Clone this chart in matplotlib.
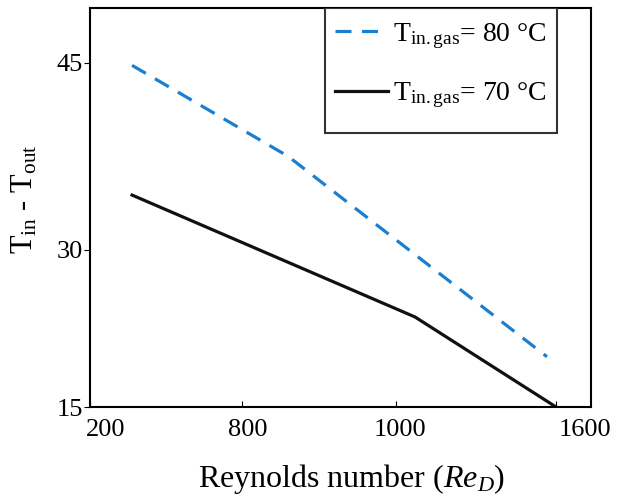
import numpy as np
import matplotlib
matplotlib.use('Agg')
import matplotlib.pyplot as plt
from matplotlib.patches import Rectangle
from matplotlib.transforms import ScaledTranslation

# data
re_80 = [366, 860, 1566]
dt_80 = [44.8, 37.5, 19.8]
re_70 = [366, 1071, 1600]
dt_70 = [34.4, 23.6, 15.0]

x_ticks = [200, 800, 1000, 1600]
y_ticks = [15, 30, 45]

plt.rcParams['font.family'] = ['Liberation Serif', 'DejaVu Serif']
plt.rcParams['mathtext.fontset'] = 'custom'
plt.rcParams['mathtext.rm'] = 'Liberation Serif'
plt.rcParams['mathtext.it'] = 'Liberation Serif:italic'


def piecewise(vals, pos):
    vals = np.asarray(vals, float)
    pos = np.asarray(pos, float)

    def f(a, b):
        s0 = (b[1] - b[0]) / (a[1] - a[0])
        s1 = (b[-1] - b[-2]) / (a[-1] - a[-2])

        def g(v):
            v = np.asarray(v, float)
            out = np.interp(v, a, b)
            out = np.where(v < a[0], b[0] + (v - a[0]) * s0, out)
            out = np.where(v > a[-1], b[-1] + (v - a[-1]) * s1, out)
            return out
        return g
    return f(vals, pos), f(pos, vals)


# the original axes are not linear, so map tick values onto even-ish spacing
x_fwd, x_inv = piecewise(x_ticks, [0, 152, 306, 466])
y_fwd, y_inv = piecewise(y_ticks, [0, 157, 344])

fig = plt.figure(figsize=(6.21, 4.99), dpi=100)
ax = fig.add_axes([90 / 621, 1 - 407 / 499, 501 / 621, 399 / 499])
ax.set_xscale('function', functions=(x_fwd, x_inv))
ax.set_yscale('function', functions=(y_fwd, y_inv))

ax.plot(re_80, dt_80, color='#1a7fd0', lw=2.3, dashes=(5, 3.3),
        label=r'T$_{\rm in.gas}$= 80 °C')
ax.plot(re_70, dt_70, color='#111111', lw=2.3,
        label=r'T$_{\rm in.gas}$= 70 °C')

ax.set_xlim(200, 1731)
ax.set_ylim(15, 49.4)
ax.set_xticks(x_ticks)
ax.set_yticks(y_ticks)
ax.minorticks_off()
ax.tick_params(axis='x', direction='in', length=4, labelsize=19, pad=9)
ax.tick_params(axis='y', direction='out', length=4, labelsize=19, pad=1)
for s in ax.spines.values():
    s.set_linewidth(1.5)

# x tick labels sit a bit right of their ticks in the original
shifts = [16, 6, 4, 29]
for lab, dx in zip(ax.get_xticklabels(), shifts):
    lab.set_transform(lab.get_transform() + ScaledTranslation(dx / 100, 0, fig.dpi_scale_trans))

ax.set_xlabel(r'Reynolds number ($Re_D$)', fontsize=23)
ax.xaxis.set_label_coords(0.523, -0.138)
ax.set_ylabel(r'T$_{\rm in}$ - T$_{\rm out}$', fontsize=22)
ax.yaxis.set_label_coords(-0.1, 0.52)

# legend box is taller than the entries, so draw the frame separately
ax.add_patch(Rectangle((235 / 501, 1 - 125 / 399), 232 / 501, 125 / 399,
                       transform=ax.transAxes, facecolor='white',
                       edgecolor='#333333', lw=1.5, zorder=4))
ax.legend(loc='upper right', bbox_to_anchor=(470 / 501, 1.0),
          borderaxespad=0, fontsize=20, frameon=False,
          handlelength=1.9, handletextpad=0.2, labelspacing=1.07,
          borderpad=0.47)

fig.savefig('out.png', dpi=100)
